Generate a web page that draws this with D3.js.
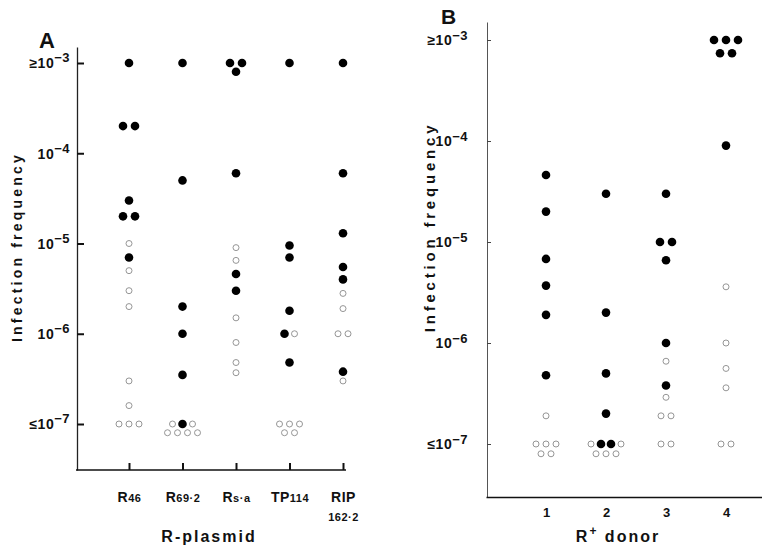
<!DOCTYPE html>
<html>
<head>
<meta charset="utf-8">
<script src="https://cdn.jsdelivr.net/npm/d3@7"></script>
<style>
  body { margin: 0; background: #fff; }
  text { font-family: "Liberation Sans", Arial, sans-serif; font-weight: bold; fill: #111; }
</style>
</head>
<body>
<svg width="762" height="546"></svg>
<script>
// each point: [infection frequency, 1 = filled / 0 = open]
// values of 8e-8 are the second row of the "<=10^-7" group
const plasmids = ['R46', 'R69·2', 'Rs·a', 'TP114', 'RIP 162·2'];
const plasmidMain = ['R', 'R', 'R', 'TP', 'RIP'];
const plasmidSub = ['46', '69·2', 's·a', '114', ''];

const pR46 = [[1e-3,1],[2e-4,1],[2e-4,1],[3e-5,1],[2e-5,1],[2e-5,1],[1e-5,0],[7e-6,1],[5e-6,0],[3e-6,0],[2e-6,0],[3e-7,0],[1.6e-7,0],[1e-7,0],[1e-7,0],[1e-7,0]];
const pR69 = [[1e-3,1],[5e-5,1],[2e-6,1],[1e-6,1],[3.5e-7,1],[1e-7,0],[1e-7,1],[1e-7,0],[8e-8,0],[8e-8,0],[8e-8,0],[8e-8,0]];
const pRsa = [[1e-3,1],[1e-3,1],[8e-4,1],[6e-5,1],[9e-6,0],[6.5e-6,0],[4.6e-6,1],[3e-6,1],[1.5e-6,0],[8e-7,0],[4.8e-7,0],[3.7e-7,0]];
const pTP114 = [[1e-3,1],[9.5e-6,1],[7e-6,1],[1.8e-6,1],[1e-6,1],[1e-6,0],[4.8e-7,1],[1e-7,0],[1e-7,0],[1e-7,0],[8e-8,0],[8e-8,0]];
const pRIP = [[1e-3,1],[6e-5,1],[1.3e-5,1],[5.5e-6,1],[4e-6,1],[2.8e-6,0],[1.9e-6,0],[1e-6,0],[1e-6,0],[3.8e-7,1],[3e-7,0]];

const donors = [1, 2, 3, 4];
const d1 = [[4.6e-5,1],[2e-5,1],[6.8e-6,1],[3.7e-6,1],[1.9e-6,1],[4.8e-7,1],[1.9e-7,0],[1e-7,0],[1e-7,0],[1e-7,0],[8e-8,0],[8e-8,0]];
const d2 = [[3e-5,1],[2e-6,1],[5e-7,1],[2e-7,1],[1e-7,0],[1e-7,1],[1e-7,1],[1e-7,0],[8e-8,0],[8e-8,0],[8e-8,0]];
const d3s = [[3e-5,1],[1e-5,1],[1e-5,1],[6.6e-6,1],[1e-6,1],[6.6e-7,0],[3.8e-7,1],[2.9e-7,0],[1.9e-7,0],[1.9e-7,0],[1e-7,0],[1e-7,0]];
const d4 = [[1e-3,1],[1e-3,1],[1e-3,1],[7.4e-4,1],[7.4e-4,1],[9e-5,1],[3.6e-6,0],[1e-6,0],[5.6e-7,0],[3.6e-7,0],[1e-7,0],[1e-7,0]];

const tickVals = [1e-3, 1e-4, 1e-5, 1e-6, 1e-7];
const tickPre = ['≥10', '10', '10', '10', '≤10'];
const tickExp = ['−3', '−4', '−5', '−6', '−7'];

const svg = d3.select('svg');

// points with equal value in one column are set side by side
const spread = (points, cat) =>
    d3.groups(points, d => d[0]).flatMap(([v, pts]) => {
        const gap = pts.every(p => p[1]) ? 12 : 10;
        return pts.map((p, i) => ({ cat, v, filled: p[1], dx: (i - (pts.length - 1) / 2) * gap }));
    });

const drawDots = (g, data, x, y) => {
    g.selectAll('circle.dot')
        .data(data)
        .enter()
        .append('circle')
        .attr('class', 'dot')
        .attr('cx', d => x(d.cat) + d.dx)
        .attr('cy', d => y(d.v))
        .attr('r', d => d.filled ? 4.3 : 3)
        .attr('fill', d => d.filled ? '#000' : '#fff')
        .attr('stroke', d => d.filled ? 'none' : '#8a8a8a')
        .attr('stroke-width', 0.9);
};

const yLabels = (axisG, size, sup) => {
    axisG.selectAll('.tick text').remove();
    axisG.selectAll('.tick')
        .append('text')
        .attr('x', 0)
        .attr('dy', '0.35em')
        .attr('text-anchor', 'end')
        .style('font-size', size + 'px')
        .style('letter-spacing', '0.5px')
        .each(function (d, i) {
            const t = d3.select(this);
            t.append('tspan').text(tickPre[i]);
            t.append('tspan').attr('dy', -sup).style('font-size', (size - 1) + 'px').text(tickExp[i]);
        });
};

// ---------- panel A ----------
const yA0 = d3.scaleLog().domain([1e-7, 1e-3]).range([424, 63]);
const yA = d3.scaleLog().domain([yA0.invert(470), yA0.invert(47)]).range([470, 47]);
const xA = d3.scalePoint().domain(plasmids).range([129, 343]);

const gA = svg.append('g');

const yAxisA = gA.append('g')
    .attr('transform', 'translate(77,0)')
    .call(d3.axisLeft(yA).tickValues(tickVals).tickSize(-7).tickSizeOuter(0));
yAxisA.select('.domain').attr('stroke', '#222').attr('stroke-width', 1.3);
yAxisA.selectAll('.tick line').attr('stroke', '#111').attr('stroke-width', 2);
yLabels(yAxisA, 14, 6);
yAxisA.selectAll('.tick text').attr('x', -7);

const xAxisA = gA.append('g')
    .attr('transform', 'translate(0,470)')
    .call(d3.axisBottom(xA).tickSize(-7).tickSizeOuter(0).tickFormat(''));
xAxisA.select('.domain').remove();
xAxisA.selectAll('.tick line').attr('stroke', '#111').attr('stroke-width', 2);
gA.append('line')
    .attr('x1', 76).attr('x2', 346).attr('y1', 470).attr('y2', 470)
    .attr('stroke', '#111').attr('stroke-width', 1.5);

xAxisA.selectAll('.tick')
    .append('text')
    .attr('y', 32)
    .attr('text-anchor', 'middle')
    .style('font-size', '14px')
    .style('letter-spacing', '0.5px')
    .each(function (d, i) {
        const t = d3.select(this);
        t.append('tspan').text(plasmidMain[i]);
        t.append('tspan').style('font-size', '11px').text(plasmidSub[i]);
    });
xAxisA.selectAll('.tick')
    .filter(d => d === 'RIP 162·2')
    .append('text')
    .attr('y', 51)
    .attr('text-anchor', 'middle')
    .style('font-size', '11px')
    .style('letter-spacing', '0.5px')
    .text('162·2');

drawDots(gA, [
    ...spread(pR46, plasmids[0]),
    ...spread(pR69, plasmids[1]),
    ...spread(pRsa, plasmids[2]),
    ...spread(pTP114, plasmids[3]),
    ...spread(pRIP, plasmids[4])
], xA, yA);

gA.append('text').attr('x', 39).attr('y', 48).style('font-size', '22px').text('A');
gA.append('text')
    .attr('transform', 'translate(22,247) rotate(-90)')
    .attr('text-anchor', 'middle')
    .style('font-size', '14px')
    .style('letter-spacing', '3.2px')
    .text('Infection frequency');
gA.append('text')
    .attr('x', 209).attr('y', 542)
    .attr('text-anchor', 'middle')
    .style('font-size', '16px')
    .style('letter-spacing', '2px')
    .text('R-plasmid');

// ---------- panel B ----------
const yB0 = d3.scaleLog().domain([1e-7, 1e-3]).range([444, 40]);
const yB = d3.scaleLog().domain([yB0.invert(497), yB0.invert(22)]).range([497, 22]);
const xB = d3.scaleLinear().domain([0, 4.6]).range([486, 762]);

const gB = svg.append('g');

const yAxisB = gB.append('g')
    .attr('transform', 'translate(487,0)')
    .call(d3.axisLeft(yB).tickValues(tickVals).tickSize(-4).tickSizeOuter(0));
yAxisB.select('.domain').attr('stroke', '#555').attr('stroke-width', 1);
yAxisB.selectAll('.tick line').attr('stroke', '#444').attr('stroke-width', 1);
yLabels(yAxisB, 14, 5);
yAxisB.selectAll('.tick text').attr('x', -19);

const xAxisB = gB.append('g')
    .attr('transform', 'translate(0,497)')
    .call(d3.axisBottom(xB).tickValues(donors).tickFormat(d3.format('d'))
        .tickSize(0).tickSizeOuter(0).tickPadding(11));
xAxisB.select('.domain').attr('stroke', '#111').attr('stroke-width', 1.6);
xAxisB.selectAll('.tick text')
    .style('font-size', '13px')
    .style('font-family', '"Liberation Sans", Arial, sans-serif')
    .attr('fill', '#111');

drawDots(gB, [
    ...spread(d1, 1),
    ...spread(d2, 2),
    ...spread(d3s, 3),
    ...spread(d4, 4)
], xB, yB);

gB.append('text').attr('x', 441).attr('y', 24).style('font-size', '21px').text('B');
gB.append('text')
    .attr('transform', 'translate(435,227) rotate(-90)')
    .attr('text-anchor', 'middle')
    .style('font-size', '15px')
    .style('letter-spacing', '3.8px')
    .text('Infection frequency');
const bTitle = gB.append('text')
    .attr('x', 618).attr('y', 542)
    .attr('text-anchor', 'middle')
    .style('font-size', '16px')
    .style('letter-spacing', '2px');
bTitle.append('tspan').text('R');
bTitle.append('tspan').attr('dy', -7).style('font-size', '12px').text('+');
bTitle.append('tspan').attr('dy', 7).text(' donor');
</script>
</body>
</html>
